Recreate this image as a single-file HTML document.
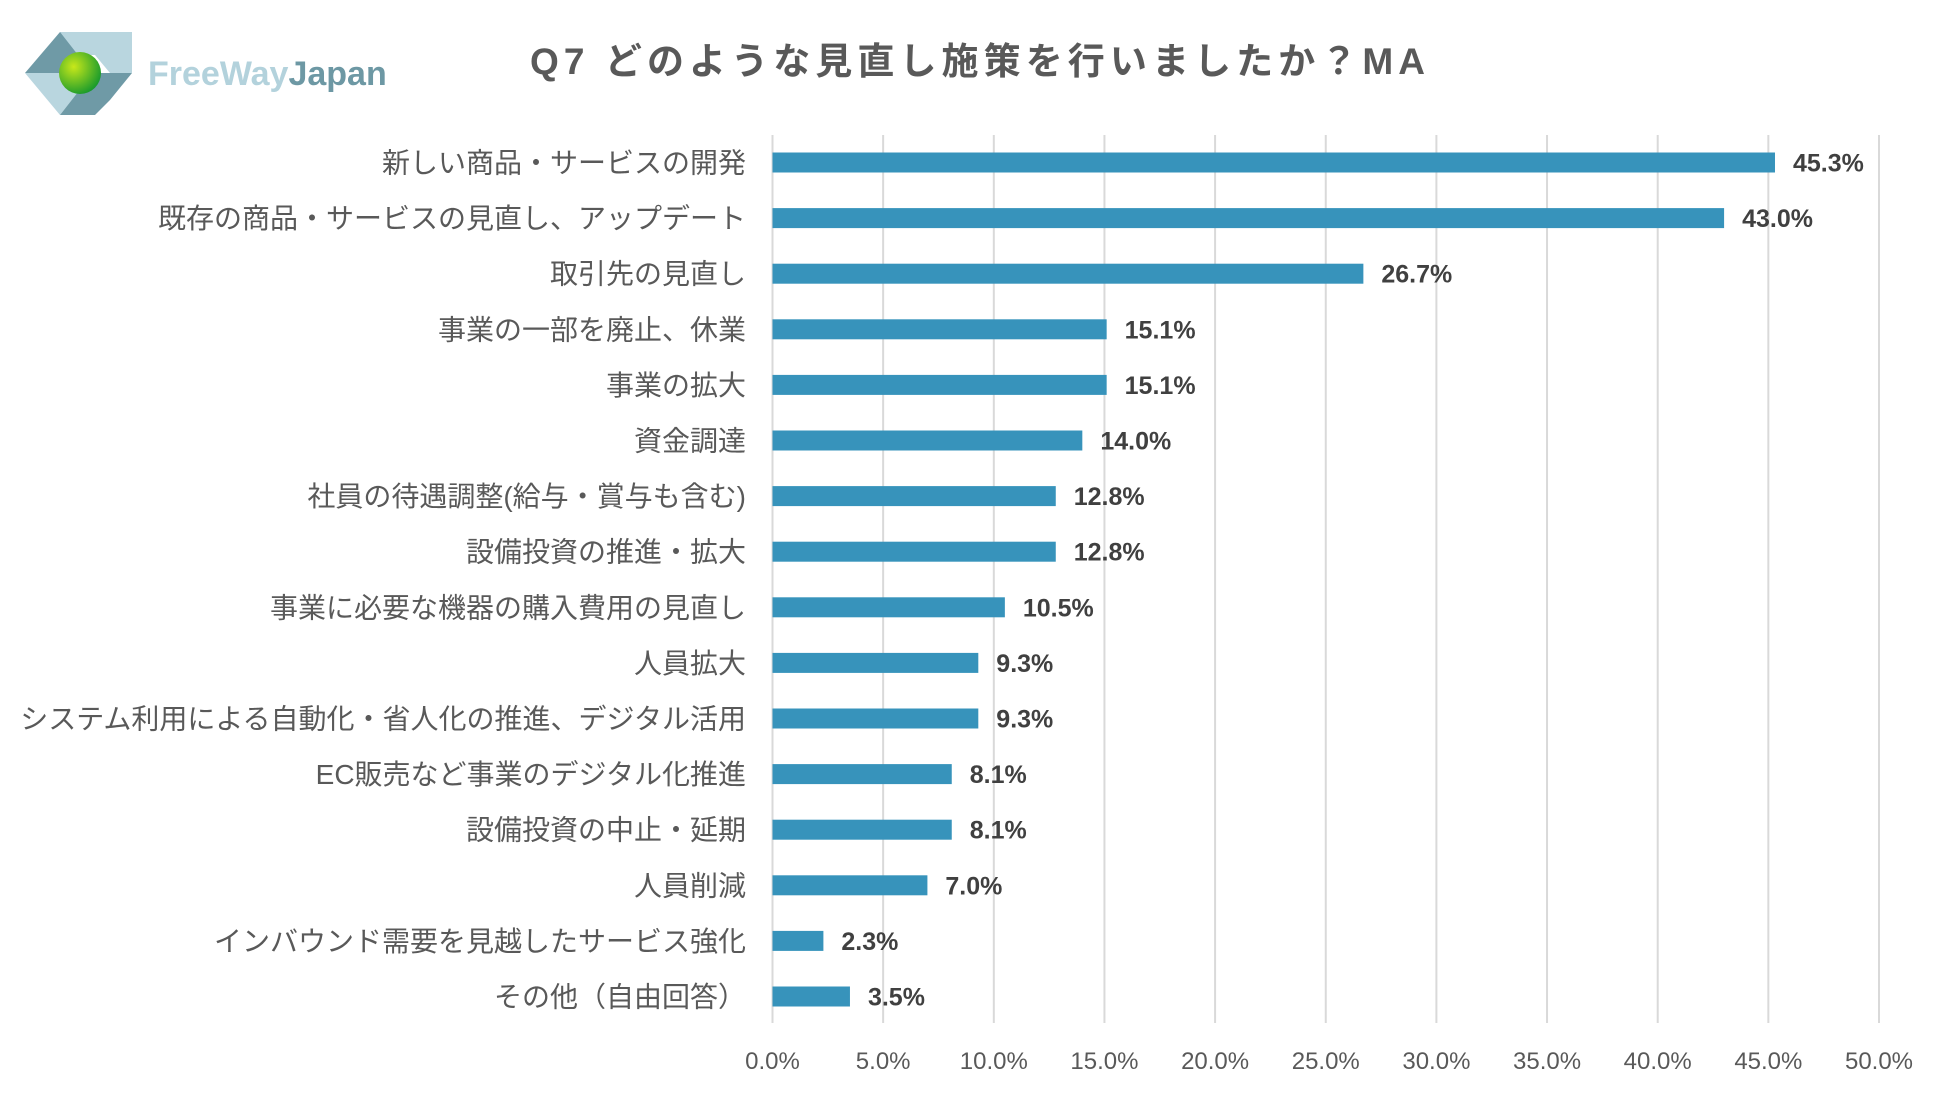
<!DOCTYPE html>
<html><head><meta charset="utf-8">
<style>
html,body{margin:0;padding:0;background:#fff;}
svg{display:block;}
text{font-family:"Liberation Sans","Noto Sans CJK JP",sans-serif;}
</style></head>
<body>
<svg id="chart" width="1950" height="1096" viewBox="0 0 1950 1096" xmlns="http://www.w3.org/2000/svg">
  <g>
    <polygon points="25,73 60,32 95,32 78,55 60,73" fill="#6f9aa6"/>
    <polygon points="60,32 95,32 132,32 132,73 110,73 95,55 78,55" fill="#b9d6df"/>
    <polygon points="25,73 60,73 78,92 60,115 45,97" fill="#b9d6df"/>
    <polygon points="60,115 78,92 100,73 132,73 110,100 95,115" fill="#6f9aa6"/>
    <defs><radialGradient id="g1" cx="35%" cy="35%" r="70%"><stop offset="0" stop-color="#c8e81a"/><stop offset="1" stop-color="#189a2c"/></radialGradient></defs>
    <circle cx="80" cy="73" r="21" fill="url(#g1)"/>
    <text x="148" y="85" font-size="34" font-weight="bold"><tspan fill="#b3d2dc">FreeWay</tspan><tspan fill="#6d98a4">Japan</tspan></text>
  </g>
  <text x="530" y="74" font-size="37" font-weight="bold" fill="#595959" textLength="895" lengthAdjust="spacing">Q7 どのような見直し施策を行いましたか？MA</text>
  <g id="grid"></g>
  <g id="bars"></g>
  <g id="labels"></g>
</svg>
<script>
const categories = ["新しい商品・サービスの開発","既存の商品・サービスの見直し、アップデート","取引先の見直し","事業の一部を廃止、休業","事業の拡大","資金調達","社員の待遇調整(給与・賞与も含む)","設備投資の推進・拡大","事業に必要な機器の購入費用の見直し","人員拡大","システム利用による自動化・省人化の推進、デジタル活用","EC販売など事業のデジタル化推進","設備投資の中止・延期","人員削減","インバウンド需要を見越したサービス強化","その他（自由回答）"];
const values = [45.3,43.0,26.7,15.1,15.1,14.0,12.8,12.8,10.5,9.3,9.3,8.1,8.1,7.0,2.3,3.5];
const ticks = [0,5,10,15,20,25,30,35,40,45,50];
const tickLabels = ["0.0%","5.0%","10.0%","15.0%","20.0%","25.0%","30.0%","35.0%","40.0%","45.0%","50.0%"];

const NS = "http://www.w3.org/2000/svg";
const x0 = 772.5, x1 = 1879, vmax = 50;
const yTop = 135, yBot = 1023, firstC = 162.5, step = 55.6, barH = 20;
function xs(v){ return x0 + (x1 - x0) * v / vmax; }
function yc(i){ return firstC + i * step; }
function mk(tag, attrs, parent){ const e = document.createElementNS(NS, tag); for (const k in attrs) e.setAttribute(k, attrs[k]); parent.appendChild(e); return e; }

const grid = document.getElementById('grid');
ticks.forEach((t, i) => {
  const l = mk('line', {x1: xs(t), x2: xs(t), y1: yTop, y2: yBot, stroke: '#d9d9d9', 'stroke-width': 2}, grid);
  
  
  const tx = mk('text', {x: xs(t), y: 1069, 'text-anchor': 'middle', 'font-size': 24, fill: '#595959'}, grid);
  tx.textContent = tickLabels[i];
  
  
});

const bars = document.getElementById('bars');
const labels = document.getElementById('labels');
categories.forEach((c, i) => {
  const r = mk('rect', {x: xs(0), y: yc(i) - barH / 2, width: xs(values[i]) - xs(0), height: barH, fill: '#3793bb'}, bars);
  
  
  const v = mk('text', {x: xs(values[i]) + 18, y: yc(i) + 9, 'font-size': 25, 'font-weight': 'bold', fill: '#404040'}, labels);
  v.textContent = values[i].toFixed(1) + '%';
  
  
  const t = mk('text', {x: 746, y: yc(i) + 10, 'text-anchor': 'end', 'font-size': 28, fill: '#595959'}, labels);
  t.textContent = c;
  
  
});
</script>
</body></html>
